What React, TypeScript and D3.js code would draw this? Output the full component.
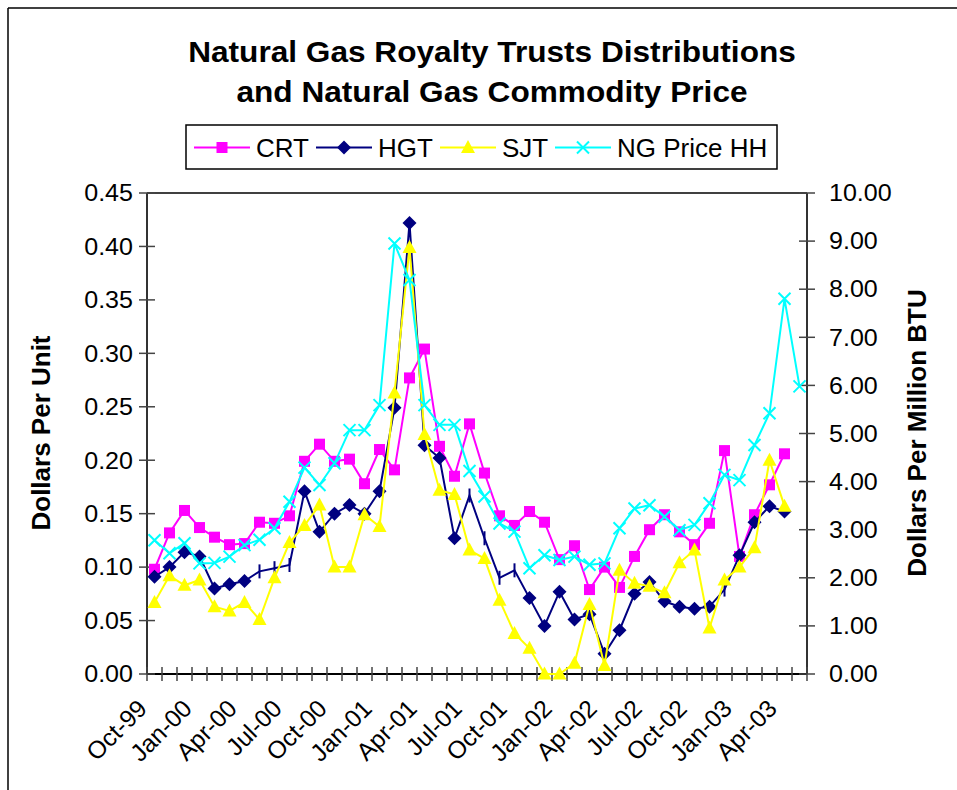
import React, { useEffect, useRef } from "react";
import * as d3 from "d3";

// months on the category axis (Oct-99 .. May-03)
const months = [
  "Oct-99", "Nov-99", "Dec-99", "Jan-00", "Feb-00", "Mar-00", "Apr-00", "May-00", "Jun-00",
  "Jul-00", "Aug-00", "Sep-00", "Oct-00", "Nov-00", "Dec-00", "Jan-01", "Feb-01", "Mar-01",
  "Apr-01", "May-01", "Jun-01", "Jul-01", "Aug-01", "Sep-01", "Oct-01", "Nov-01", "Dec-01",
  "Jan-02", "Feb-02", "Mar-02", "Apr-02", "May-02", "Jun-02", "Jul-02", "Aug-02", "Sep-02",
  "Oct-02", "Nov-02", "Dec-02", "Jan-03", "Feb-03", "Mar-03", "Apr-03", "May-03",
];
const shownLabels = [
  "Oct-99", "Jan-00", "Apr-00", "Jul-00", "Oct-00", "Jan-01", "Apr-01", "Jul-01",
  "Oct-01", "Jan-02", "Apr-02", "Jul-02", "Oct-02", "Jan-03", "Apr-03",
];

const crt = [
  0.098, 0.132, 0.153, 0.137, 0.128, 0.121, 0.122, 0.142, 0.141, 0.148, 0.199, 0.215, 0.199,
  0.201, 0.178, 0.210, 0.191, 0.277, 0.304, 0.213, 0.185, 0.234, 0.188, 0.148, 0.139, 0.152,
  0.142, 0.107, 0.120, 0.079, 0.100, 0.081, 0.110, 0.135, 0.149, 0.133, 0.121, 0.141, 0.209,
  0.110, 0.149, 0.177, 0.206,
];
const hgt = [
  0.091, 0.100, 0.114, 0.110, 0.080, 0.084, 0.087, 0.096, 0.099, 0.102, 0.171, 0.133, 0.150,
  0.158, 0.150, 0.171, 0.249, 0.422, 0.214, 0.202, 0.127, 0.167, 0.127, 0.090, 0.097, 0.071,
  0.045, 0.077, 0.051, 0.056, 0.019, 0.041, 0.075, 0.086, 0.068, 0.063, 0.061, 0.063, 0.079,
  0.111, 0.142, 0.157, 0.152,
];
const sjt = [
  0.067, 0.092, 0.083, 0.088, 0.063, 0.059, 0.067, 0.051, 0.090, 0.123, 0.139, 0.158, 0.100,
  0.100, 0.149, 0.138, 0.263, 0.399, 0.224, 0.172, 0.168, 0.116, 0.108, 0.069, 0.038, 0.024,
  0.000, 0.000, 0.010, 0.065, 0.008, 0.097, 0.085, 0.082, 0.076, 0.104, 0.116, 0.043, 0.088,
  0.100, 0.118, 0.200, 0.157,
];
const ngPrice = [
  2.78, 2.51, 2.72, 2.30, 2.31, 2.44, 2.68, 2.79, 3.03, 3.58, 4.29, 3.93, 4.38, 5.07, 5.07,
  5.59, 8.95, 8.19, 5.59, 5.18, 5.18, 4.22, 3.69, 3.13, 2.96, 2.20, 2.47, 2.37, 2.44, 2.27,
  2.30, 3.03, 3.44, 3.51, 3.27, 2.99, 3.10, 3.55, 4.14, 4.03, 4.76, 5.42, 7.80, 5.98,
];

const leftTicks = [0, 0.05, 0.1, 0.15, 0.2, 0.25, 0.3, 0.35, 0.4, 0.45];
const rightTicks = [0, 1, 2, 3, 4, 5, 6, 7, 8, 9, 10];

const FONT = "'Liberation Sans', Arial, sans-serif";
// the original picture is slightly stretched horizontally
const SX = 1.09;

const App = () => {
  const ref = useRef<SVGSVGElement>(null);

  useEffect(() => {
    const svg = d3.select(ref.current);
    svg.selectAll("*").remove();

    const left = 147, right = 807, top = 193, bottom = 674;

    const x = d3.scaleBand().domain(months).range([left, right]);
    const cx = (m: string) => (x(m) as number) + x.bandwidth() / 2;
    const yL = d3.scaleLinear().domain([0, 0.45]).range([bottom, top]);
    const yR = d3.scaleLinear().domain([0, 10]).range([bottom, top]);

    // outer chart border (top + left visible)
    svg.append("line").attr("x1", 8).attr("x2", 957).attr("y1", 8).attr("y2", 8)
      .attr("stroke", "#000").attr("stroke-width", 1.5);
    svg.append("line").attr("x1", 8).attr("x2", 8).attr("y1", 8).attr("y2", 790)
      .attr("stroke", "#000").attr("stroke-width", 1.5);

    // title
    ["Natural Gas Royalty Trusts Distributions", "and Natural Gas Commodity Price"].forEach((t, i) => {
      svg.append("text").attr("transform", `translate(492,${62 + i * 40}) scale(${SX},1)`)
        .attr("text-anchor", "middle").attr("font-family", FONT).attr("font-weight", "bold")
        .attr("font-size", 29).text(t);
    });

    // plot frame top
    svg.append("line").attr("x1", left).attr("x2", right).attr("y1", top).attr("y2", top)
      .attr("stroke", "#000").attr("stroke-width", 1.5);

    // axes
    const axisG = svg.append("g").attr("stroke", "#333").attr("stroke-width", 2);
    axisG.append("line").attr("x1", left).attr("x2", left).attr("y1", top).attr("y2", bottom);
    axisG.append("line").attr("x1", right).attr("x2", right).attr("y1", top).attr("y2", bottom);
    axisG.append("line").attr("x1", left).attr("x2", right).attr("y1", bottom).attr("y2", bottom)
      .attr("stroke", "#000");

    const tickG = svg.append("g").attr("stroke", "#444").attr("stroke-width", 1.5);
    leftTicks.forEach((t) => {
      tickG.append("line").attr("x1", left - 8).attr("x2", left + 8)
        .attr("y1", yL(t)).attr("y2", yL(t));
    });
    rightTicks.forEach((t) => {
      tickG.append("line").attr("x1", right - 8).attr("x2", right + 8)
        .attr("y1", yR(t)).attr("y2", yR(t));
    });
    d3.range(months.length + 1).forEach((i) => {
      const xx = left + i * x.bandwidth();
      tickG.append("line").attr("x1", xx).attr("x2", xx)
        .attr("y1", bottom - 7).attr("y2", bottom + 7);
    });

    // tick labels
    svg.append("g").selectAll("text").data(leftTicks).join("text")
      .attr("transform", (d) => `translate(133,${yL(d)}) scale(${SX},1)`).attr("dy", "0.36em")
      .attr("text-anchor", "end").attr("font-family", FONT).attr("font-size", 23)
      .text((d) => d3.format(".2f")(d));
    svg.append("g").selectAll("text").data(rightTicks).join("text")
      .attr("transform", (d) => `translate(829,${yR(d)}) scale(${SX},1)`).attr("dy", "0.36em")
      .attr("text-anchor", "start").attr("font-family", FONT).attr("font-size", 23)
      .text((d) => d3.format(".2f")(d));
    svg.append("g").selectAll("text").data(shownLabels).join("text")
      .attr("transform", (d) => `translate(${cx(d) - 6},${710}) rotate(-45)`)
      .attr("text-anchor", "end").attr("font-family", FONT).attr("font-size", 24.5)
      .text((d) => d);

    // axis titles
    svg.append("text").attr("transform", "translate(50,433) rotate(-90)")
      .attr("text-anchor", "middle").attr("font-family", FONT).attr("font-weight", "bold")
      .attr("font-size", 26).text("Dollars Per Unit");
    svg.append("text").attr("transform", "translate(926,433) rotate(-90)")
      .attr("text-anchor", "middle").attr("font-family", FONT).attr("font-weight", "bold")
      .attr("font-size", 26).text("Dollars Per Million BTU");

    // markers
    const drawMarker = (g: any, kind: string, color: string, px: number, py: number) => {
      if (kind === "square") {
        g.append("rect").attr("x", px - 5.5).attr("y", py - 5.5).attr("width", 11).attr("height", 11)
          .attr("fill", color);
      } else if (kind === "diamond") {
        g.append("path").attr("d", `M${px},${py - 7}L${px + 7},${py}L${px},${py + 7}L${px - 7},${py}Z`)
          .attr("fill", color);
      } else if (kind === "triangle") {
        g.append("path").attr("d", `M${px},${py - 7.5}L${px + 7},${py + 5.5}L${px - 7},${py + 5.5}Z`)
          .attr("fill", color);
      } else if (kind === "bar") {
        g.append("line").attr("x1", px).attr("x2", px).attr("y1", py - 7).attr("y2", py + 7)
          .attr("stroke", color).attr("stroke-width", 2);
      } else if (kind === "x") {
        g.append("path").attr("d", `M${px - 6},${py - 6}L${px + 6},${py + 6}M${px - 6},${py + 6}L${px + 6},${py - 6}`)
          .attr("stroke", color).attr("stroke-width", 2).attr("fill", "none");
      }
    };

    // HGT points drawn with a short bar marker in the original
    const hgtBarPts = new Set([7, 8, 9, 21, 22, 23, 24, 38]);

    const series = [
      { name: "CRT", values: crt, color: "#FF00FF", marker: "square", scale: yL },
      { name: "HGT", values: hgt, color: "#000080", marker: "diamond", scale: yL },
      { name: "SJT", values: sjt, color: "#FFFF00", marker: "triangle", scale: yL },
      { name: "NG Price HH", values: ngPrice, color: "#00FFFF", marker: "x", scale: yR },
    ];

    series.forEach((s) => {
      const g = svg.append("g");
      const line = d3.line<number>()
        .x((d, i) => cx(months[i]))
        .y((d) => s.scale(d));
      g.append("path").datum(s.values).attr("d", line).attr("fill", "none")
        .attr("stroke", s.color).attr("stroke-width", 2);
      s.values.forEach((v, i) => {
        const kind = s.name === "HGT" && hgtBarPts.has(i) ? "bar" : s.marker;
        drawMarker(g, kind, s.color, cx(months[i]), s.scale(v));
      });
    });

    // legend
    const lg = svg.append("g");
    lg.append("rect").attr("x", 186).attr("y", 125).attr("width", 591).attr("height", 44)
      .attr("fill", "#fff").attr("stroke", "#000").attr("stroke-width", 1.5);
    const legendX = [194, 316, 440, 555];
    series.forEach((s, i) => {
      const sx = legendX[i];
      const ly = 147.5;
      lg.append("line").attr("x1", sx).attr("x2", sx + 56).attr("y1", ly).attr("y2", ly)
        .attr("stroke", s.color).attr("stroke-width", 2);
      drawMarker(lg, s.marker, s.color, sx + 28, ly);
      lg.append("text").attr("transform", `translate(${sx + 62},${ly + 9}) scale(1.04,1)`)
        .attr("font-family", FONT).attr("font-size", 25).text(s.name);
    });
  }, []);

  return (
    <svg
      ref={ref}
      width={957}
      height={790}
      style={{ position: "absolute", left: 0, top: 0, background: "#fff" }}
    />
  );
};

export default App;
